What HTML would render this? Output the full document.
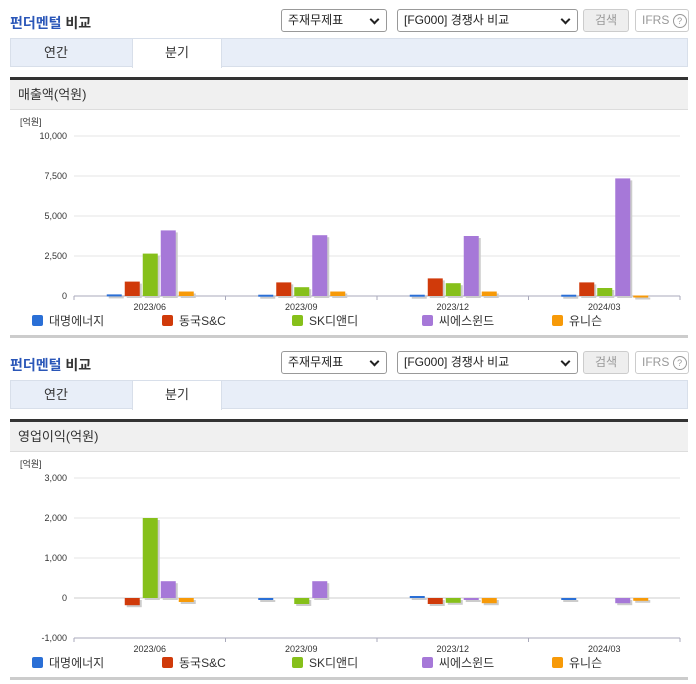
<!DOCTYPE html>
<html><head><meta charset="utf-8">
<style>
body{margin:0;width:696px;height:684px;background:#fff;font-family:"Liberation Sans","Noto Sans CJK KR",sans-serif;position:relative;overflow:hidden}
.sec{position:absolute;left:0;width:696px;height:342px}
.title{position:absolute;left:10px;top:13px;font-size:14px;font-weight:bold;color:#333}
.title span{color:#2a56b8}
.sel{position:absolute;top:9px;height:21px;border:1px solid #999;border-radius:3px;background:#fff;font-size:12px;line-height:21px;padding-left:6px;box-sizing:border-box;height:23px;color:#222}
.sel:after{content:"";position:absolute;right:8px;top:6px;width:5px;height:5px;border-right:2px solid #222;border-bottom:2px solid #222;transform:rotate(45deg)}
.btn{position:absolute;top:9px;height:23px;border:1px solid #ccc;border-radius:3px;box-sizing:border-box;font-size:12px;line-height:21px;text-align:center;color:#999}
.tabs{position:absolute;left:10px;top:38px;width:678px;height:29px;background:#e8eef8;border:1px solid #d8dfea;box-sizing:border-box}
.tab{position:absolute;top:0;height:29px;width:90px;text-align:center;font-size:13px;line-height:28px;color:#333}
.dark{position:absolute;left:10px;top:77px;width:678px;height:3px;background:#333}
.hdr{position:absolute;left:10px;top:80px;width:678px;height:30px;background:#f0f0f0;border-bottom:1px solid #ddd;box-sizing:border-box;font-size:13px;line-height:30px;padding-left:8px;color:#333}
.bot{position:absolute;left:10px;top:335px;width:678px;height:3px;background:#ccc}
svg{position:absolute;left:0;top:110px}
</style></head><body>
<div id="root"></div>
<script>
const categories=["2023/06","2023/09","2023/12","2024/03"];
const seriesNames=["대명에너지","동국S&C","SK디앤디","씨에스윈드","유니슨"];
const colors=["#2a6fd6","#d03a0a","#86c01a","#a678d8","#f79a08"];
const salesTicks=[0,2500,5000,7500,10000];
const salesA=[100,80,80,80];
const salesB=[900,850,1100,850];
const salesC=[2650,550,800,500];
const salesD=[4100,3800,3750,7350];
const salesE=[280,280,280,30];
const opTicks=[-1000,0,1000,2000,3000];
const opA=[0,-40,50,-30];
const opB=[-180,0,-150,0];
const opC=[2000,-150,-120,0];
const opD=[420,420,-50,-130];
const opE=[-100,0,-130,-70];
const NS="http://www.w3.org/2000/svg";
function mk(tag,attrs,parent){const e=document.createElementNS(NS,tag);for(const k in attrs)e.setAttribute(k,attrs[k]);parent.appendChild(e);return e;}
function fmt(v){return v.toLocaleString('en-US');}
function section(top,name,ticks,series,idx){
 const s=document.createElement('div');s.className='sec';s.style.top=top+'px';
 
 s.innerHTML=`<div class="title"><span>펀더멘털</span> 비교</div>
<div class="sel" style="left:281px;width:106px">주재무제표</div>
<div class="sel" style="left:397px;width:181px">[FG000] 경쟁사 비교</div>
<div class="btn" style="left:583px;width:46px;background:#eee">검색</div>
<div class="btn" style="left:635px;width:54px;text-align:left;padding-left:6px">IFRS <span style="display:inline-block;width:12px;height:12px;border:1px solid #999;border-radius:50%;font-size:9px;line-height:12px;text-align:center">?</span></div>
<div class="tabs"><div class="tab" style="left:0">연간</div><div class="tab" style="left:121px;top:-1px;height:30px;background:#fff;border:1px solid #d8dfea;border-bottom:none;box-sizing:border-box">분기</div></div>
<div class="dark"></div><div class="hdr">${name}</div><div class="bot"></div>`;
 document.getElementById('root').appendChild(s);
 const svg=mk('svg',{width:696,height:226},s);
 
 const x0=74,x1=680,yTop=26,yBot=186;
 const mn=ticks[0],mx=ticks[ticks.length-1];
 const y=v=>yBot-(v-mn)/(mx-mn)*(yBot-yTop);
 const cw=(x1-x0)/categories.length;
 const u=mk('text',{x:20,y:15,'font-size':9,fill:'#333'},svg);u.textContent='[억원]';
 
 ticks.forEach(t=>{
  const l=mk('line',{x1:x0,x2:x1,y1:y(t),y2:y(t),stroke:t===mn?'#aab':'#e4e4e4','stroke-width':1},svg);
  
  const tx=mk('text',{x:67,y:y(t)+3,'font-size':9,fill:'#333','text-anchor':'end'},svg);tx.textContent=fmt(t);
  
 });
 if(mn<0){const z=mk('line',{x1:x0,x2:x1,y1:y(0),y2:y(0),stroke:'#ccc'},svg);}
 categories.forEach((c,i)=>{
  const cx=x0+cw*(i+0.5);
  mk('line',{x1:x0+cw*i,x2:x0+cw*i,y1:yBot,y2:yBot+4,stroke:'#aab'},svg);
  const t=mk('text',{x:cx,y:yBot+14,'font-size':9,fill:'#333','text-anchor':'middle'},svg);t.textContent=c;
  
  series.forEach((arr,k)=>{
   const v=arr[i];const bx=cx-43+k*18;const y0=y(0),yv=y(v);
   const top=Math.min(y0,yv),h=Math.max(Math.abs(yv-y0),v===0?0:2);
   if(h<=0)return;
   mk('rect',{x:bx+2,y:top+2,width:15,height:h,fill:'#ccc'},svg);
   const r=mk('rect',{x:bx,y:top,width:15,height:h,fill:colors[k]},svg);
   
  });
 });
 mk('line',{x1:x1,x2:x1,y1:yBot,y2:yBot+4,stroke:'#aab'},svg);
 seriesNames.forEach((n,k)=>{
  const lx=32+k*130;
  const r=mk('rect',{x:lx,y:yBot+19,width:11,height:11,rx:2,fill:colors[k]},svg);
  
  const t=mk('text',{x:lx+17,y:yBot+29,'font-size':12,fill:'#333'},svg);t.textContent=n;
  
 });
}
section(0,'매출액(억원)',salesTicks,[salesA,salesB,salesC,salesD,salesE],1);
section(342,'영업이익(억원)',opTicks,[opA,opB,opC,opD,opE],2);
</script>
</body></html>
